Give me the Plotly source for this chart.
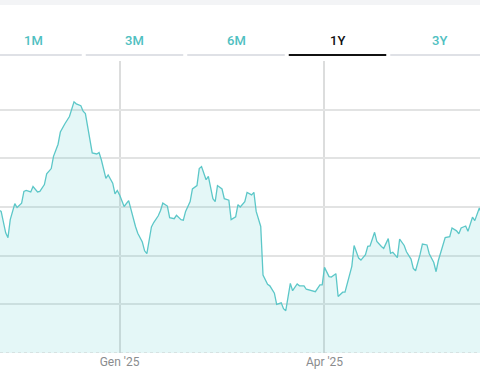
import plotly.graph_objects as go

dates = [
    "2024-11-09", "2024-11-10", "2024-11-12", "2024-11-13", "2024-11-14", "2024-11-16", "2024-11-17",
    "2024-11-19", "2024-11-20", "2024-11-21", "2024-11-23", "2024-11-24", "2024-11-26", "2024-11-27",
    "2024-11-29", "2024-11-30", "2024-12-02", "2024-12-03", "2024-12-05", "2024-12-06", "2024-12-08",
    "2024-12-10", "2024-12-12", "2024-12-13", "2024-12-15", "2024-12-16", "2024-12-17", "2024-12-19",
    "2024-12-20", "2024-12-22", "2024-12-23", "2024-12-24", "2024-12-26", "2024-12-27", "2024-12-29",
    "2024-12-30", "2024-12-31", "2025-01-01", "2025-01-03", "2025-01-05", "2025-01-06", "2025-01-08",
    "2025-01-09", "2025-01-11", "2025-01-12", "2025-01-13", "2025-01-15", "2025-01-16", "2025-01-18",
    "2025-01-19", "2025-01-20", "2025-01-22", "2025-01-23", "2025-01-25", "2025-01-26", "2025-01-28",
    "2025-01-29", "2025-01-30", "2025-02-01", "2025-02-02", "2025-02-04", "2025-02-05", "2025-02-06",
    "2025-02-08", "2025-02-09", "2025-02-11", "2025-02-12", "2025-02-13", "2025-02-15", "2025-02-16",
    "2025-02-18", "2025-02-19", "2025-02-21", "2025-02-22", "2025-02-23", "2025-02-25", "2025-02-26",
    "2025-02-28", "2025-03-01", "2025-03-02", "2025-03-04", "2025-03-05", "2025-03-07", "2025-03-08",
    "2025-03-10", "2025-03-11", "2025-03-13", "2025-03-14", "2025-03-15", "2025-03-17", "2025-03-18",
    "2025-03-20", "2025-03-21", "2025-03-23", "2025-03-24", "2025-03-26", "2025-03-27", "2025-03-28",
    "2025-03-30", "2025-03-31", "2025-04-01", "2025-04-03", "2025-04-04", "2025-04-06", "2025-04-07",
    "2025-04-09", "2025-04-10", "2025-04-12", "2025-04-13", "2025-04-14", "2025-04-16", "2025-04-17",
    "2025-04-19", "2025-04-20", "2025-04-21", "2025-04-23", "2025-04-24", "2025-04-26", "2025-04-27",
    "2025-04-29", "2025-04-30", "2025-05-01", "2025-05-03", "2025-05-04", "2025-05-06", "2025-05-07",
    "2025-05-09", "2025-05-10", "2025-05-11", "2025-05-13", "2025-05-14", "2025-05-16", "2025-05-17",
    "2025-05-19", "2025-05-20", "2025-05-21", "2025-05-23", "2025-05-24", "2025-05-26", "2025-05-27",
    "2025-05-29", "2025-05-30", "2025-05-31", "2025-06-02", "2025-06-03", "2025-06-05", "2025-06-06",
    "2025-06-08", "2025-06-09", "2025-06-10",
]

values = [
    2.94, 2.91, 2.47, 2.37, 2.74, 3.07, 2.99, 3.08, 3.32, 3.34, 3.31, 3.42, 3.31, 3.32,
    3.46, 3.68, 3.79, 4.04, 4.29, 4.54, 4.71, 4.86, 5.16, 5.12, 5.08, 4.97, 4.92, 4.35,
    4.11, 4.09, 4.12, 3.97, 3.59, 3.66, 3.49, 3.27, 3.34, 3.25, 3.01, 3.13, 2.94, 2.60,
    2.46, 2.28, 2.10, 2.04, 2.59, 2.68, 2.82, 2.93, 3.08, 3.02, 2.78, 2.76, 2.83, 2.74,
    2.73, 2.91, 3.11, 3.37, 3.44, 3.79, 3.83, 3.56, 3.63, 3.17, 3.11, 3.44, 3.37, 3.17,
    3.14, 2.74, 2.80, 3.05, 3.00, 3.11, 3.30, 3.25, 3.30, 2.91, 2.60, 1.60, 1.41, 1.38,
    1.23, 1.00, 1.03, 0.91, 0.87, 1.43, 1.28, 1.42, 1.38, 1.38, 1.31, 1.28, 1.26, 1.26,
    1.40, 1.40, 1.76, 1.57, 1.56, 1.63, 1.16, 1.25, 1.25, 1.57, 1.78, 2.21, 1.95, 1.91,
    2.02, 2.19, 2.20, 2.48, 2.29, 2.19, 2.15, 2.35, 2.05, 2.07, 1.96, 2.34, 2.21, 2.08,
    1.93, 1.74, 1.69, 2.03, 2.24, 2.22, 2.04, 1.86, 1.67, 1.90, 2.19, 2.37, 2.39, 2.57,
    2.51, 2.45, 2.57, 2.61, 2.50, 2.79, 2.72, 2.98, 2.86, 2.91,
]

tick_dates = ["2025-01-01", "2025-04-01"]
tick_labels = ["Gen '25", "Apr '25"]
tabs = ["1M", "3M", "6M", "1Y", "3Y"]
active_tab = "1Y"

W, H = 480, 384
TOP, BOTTOM = 61, 31
plot_h = H - TOP - BOTTOM


def py(pix):
    # convert a pixel row (from the top of the page) to paper y
    return (H - BOTTOM - pix) / plot_h


fig = go.Figure()
fig.add_trace(go.Scatter(
    x=dates, y=values, mode="lines",
    line=dict(color="#5cc7c8", width=1.3),
    fill="tozeroy", fillcolor="rgba(64,196,196,0.14)",
    hoverinfo="skip",
))

shapes = []
# top grey band
shapes.append(dict(type="rect", xref="paper", yref="paper", x0=0, x1=1,
                   y0=py(5), y1=py(0), fillcolor="#f3f4f6", line_width=0, layer="below"))
# tab underlines
tab_w = 101.5
first_center = 33
annotations = []
for i, t in enumerate(tabs):
    c = first_center + i * tab_w
    x0 = max(0, c - tab_w / 2 + 2)
    x1 = min(W, c + tab_w / 2 - 2)
    active = t == active_tab
    shapes.append(dict(type="line", xref="paper", yref="paper",
                       x0=x0 / W, x1=x1 / W, y0=py(55), y1=py(55),
                       line=dict(color="#111111" if active else "#dfe1e6",
                                 width=2.2 if active else 2)))
    annotations.append(dict(text=t, xref="paper", yref="paper", x=c / W, y=py(40),
                            showarrow=False, xanchor="center", yanchor="middle",
                            font=dict(family="Roboto", size=13,
                                      color="#111111" if active else "#4fc0c1",
                                      weight=500)))
# dotted baseline
shapes.append(dict(type="line", xref="paper", yref="y", x0=0, x1=1, y0=0, y1=0,
                   line=dict(color="#c8cccc", width=1, dash="dot")))

fig.update_layout(
    width=W, height=H,
    margin=dict(l=0, r=0, t=TOP, b=BOTTOM),
    paper_bgcolor="white", plot_bgcolor="white",
    showlegend=False,
    shapes=shapes, annotations=annotations,
    xaxis=dict(
        type="date",
        range=["2024-11-09 12:00", "2025-06-08 07:00"],
        tickvals=tick_dates, ticktext=tick_labels,
        showgrid=True, gridcolor="#dcdddd", gridwidth=1.5,
        zeroline=False, showline=False, ticks="",
        tickfont=dict(family="Roboto", size=12, color="#8a8c8e"),
        fixedrange=True,
    ),
    yaxis=dict(
        range=[0, 6],
        tickvals=[1, 2, 3, 4, 5],
        showticklabels=False,
        showgrid=True, gridcolor="#e2e3e3", gridwidth=1.5,
        zeroline=False, showline=False, ticks="",
        fixedrange=True,
    ),
)

fig.write_html("out.html", config={"displayModeBar": False},
               post_script="document.body.style.margin='0';document.body.style.overflow='hidden';")
